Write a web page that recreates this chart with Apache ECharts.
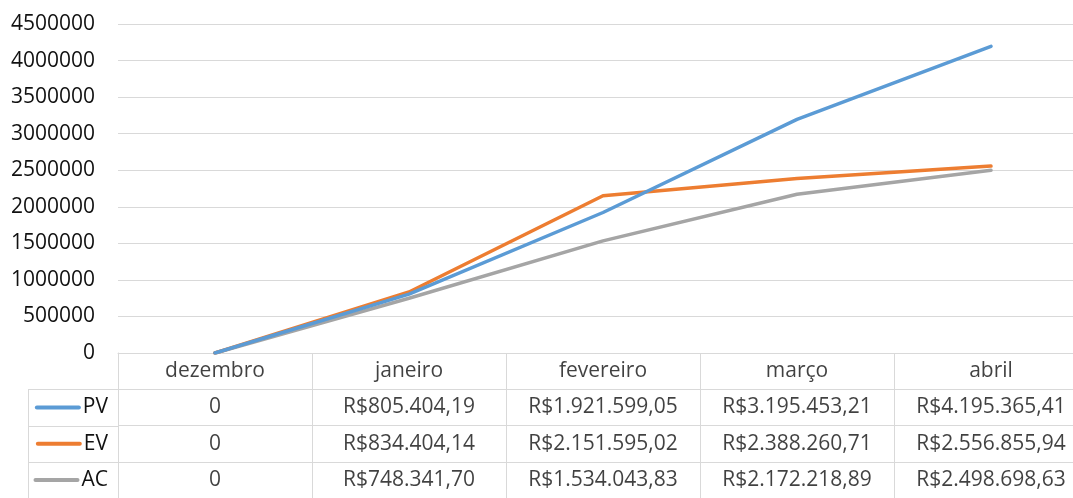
<!DOCTYPE html>
<html><head><meta charset="utf-8">
<script src="https://cdn.jsdelivr.net/npm/echarts@6/dist/echarts.min.js"></script>
<style>html,body{margin:0;padding:0;background:#fff}#c{width:1073px;height:498px}</style>
</head><body><div id="c"></div>
<script>
const months = ['dezembro', 'janeiro', 'fevereiro', 'março', 'abril'];
const seriesNames = ['PV', 'EV', 'AC'];
const pv = [0, 805404.19, 1921599.05, 3195453.21, 4195365.41];
const ev = [0, 834404.14, 2151595.02, 2388260.71, 2556855.94];
const ac = [0, 748341.70, 1534043.83, 2172218.89, 2498698.63];
const yTicks = { min: 0, max: 4500000, interval: 500000 };

const colors = ['#5b9bd5', '#ed7d31', '#a5a5a5'];
const FONT = '"Open Sans", sans-serif';
const FS = 21;
const TXT = '#111111';
const LINE = '#d9d9d9';

function brl(v) {
  if (v === 0) return '0';
  const parts = v.toFixed(2).split('.');
  const intPart = parts[0].replace(/\B(?=(\d{3})+(?!\d))/g, '.');
  return 'R$' + intPart + ',' + parts[1];
}

const allSeries = [pv, ev, ac];
const rowNames = [''].concat(seriesNames);
const cells = [];
months.forEach((m, i) => cells.push([i, 0, m]));
allSeries.forEach((arr, r) => arr.forEach((v, i) => cells.push([i, r + 1, brl(v)])));

const L = 118, CW = 194, W = CW * months.length, T = 24, B = 353, TB = 498;
const rowH = (TB - B) / 4;

const chart = echarts.init(document.getElementById('c'), null, { renderer: 'canvas' });
const rich = {};
seriesNames.forEach((n, i) => { rich['s' + i] = { width: 46, height: 4, backgroundColor: colors[i], borderRadius: 2 }; rich['t' + i] = { fontSize: FS, fontFamily: FONT, color: TXT, padding: [0, 0, 0, 2] }; });

chart.setOption({
  animation: false,
  textStyle: { fontFamily: FONT },
  grid: [
    { left: L, top: T, width: W, height: B - T, outerBoundsMode: 'none', containLabel: false },
    { left: L, top: B, width: W, height: TB - B, outerBoundsMode: 'none', containLabel: false }
  ],
  xAxis: [
    { gridIndex: 0, type: 'category', data: months, boundaryGap: true,
      axisLine: { lineStyle: { color: LINE, width: 1 } }, axisTick: { show: false }, axisLabel: { show: false } },
    { gridIndex: 1, type: 'category', data: months, boundaryGap: true,
      axisLine: { show: false }, axisTick: { show: false }, axisLabel: { show: false },
      splitLine: { show: true, lineStyle: { color: LINE, width: 1 } } }
  ],
  yAxis: [
    { gridIndex: 0, type: 'value', min: yTicks.min, max: yTicks.max, interval: yTicks.interval,
      axisLine: { show: false }, axisTick: { show: false },
      axisLabel: { fontSize: FS, color: TXT, fontFamily: FONT, margin: 23, formatter: v => String(v) },
      splitLine: { lineStyle: { color: LINE, width: 1 } } },
    { gridIndex: 1, type: 'category', data: rowNames, inverse: true, boundaryGap: true,
      axisLine: { show: true, lineStyle: { color: LINE } }, axisTick: { show: false },
      axisLabel: { margin: 10, formatter: (v, i) => i === 0 ? '' : '{s' + (i - 1) + '|}{t' + (i - 1) + '|' + v + '}', rich: rich },
      splitLine: { show: true, lineStyle: { color: LINE, width: 1 } } }
  ],
  series: allSeries.map((arr, i) => ({
    name: seriesNames[i], type: 'line', xAxisIndex: 0, yAxisIndex: 0, data: arr,
    symbol: 'none', lineStyle: { color: colors[i], width: 3.5, cap: 'round', join: 'round' },
    itemStyle: { color: colors[i] }, z: 3 - i
  })).concat([{
    type: 'scatter', xAxisIndex: 1, yAxisIndex: 1, data: cells, symbolSize: 0, silent: true,
    label: { show: true, position: 'inside', formatter: p => p.data[2], fontSize: FS, fontFamily: FONT, color: TXT }
  }]),
  graphic: [
    { type: 'line', shape: { x1: 28.5, y1: B + rowH, x2: 28.5, y2: TB }, style: { stroke: LINE, lineWidth: 1 } },
    { type: 'line', shape: { x1: 28, y1: Math.round(B + rowH) + 0.5, x2: L, y2: Math.round(B + rowH) + 0.5 }, style: { stroke: LINE, lineWidth: 1 } },
    { type: 'line', shape: { x1: 28, y1: Math.round(B + 2 * rowH) + 0.5, x2: L, y2: Math.round(B + 2 * rowH) + 0.5 }, style: { stroke: LINE, lineWidth: 1 } },
    { type: 'line', shape: { x1: 28, y1: Math.round(B + 3 * rowH) + 0.5, x2: L, y2: Math.round(B + 3 * rowH) + 0.5 }, style: { stroke: LINE, lineWidth: 1 } }
  ]
});
</script></body></html>
